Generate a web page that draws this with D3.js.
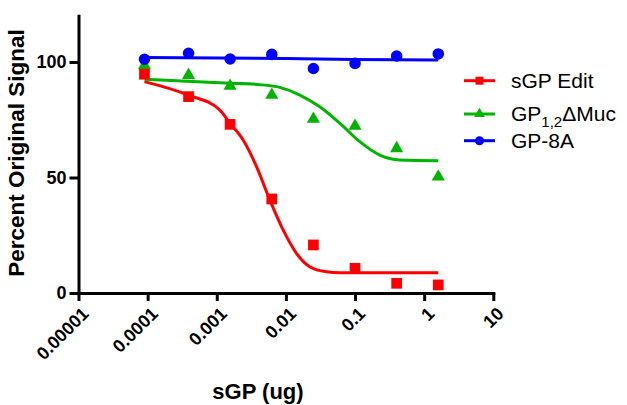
<!DOCTYPE html>
<html><head><meta charset="utf-8">
<script src="https://cdn.jsdelivr.net/npm/d3@7"></script>
<style>
html,body{margin:0;padding:0;background:#fff;}
svg{display:block;font-family:"Liberation Sans",Arial,Helvetica,sans-serif;}
</style></head>
<body><svg id="c" width="627" height="405"></svg>
<script>
// ---- data ----
const doses = [0.00009, 0.000391, 0.00156, 0.00625, 0.025, 0.1, 0.4, 1.6];
const seriesNames = ["sGP Edit", "GP1,2ΔMuc", "GP-8A"];
const sgpEdit = [94.7, 85.0, 73.0, 40.7, 20.8, 10.7, 4.2, 3.5];
const gpMuc   = [98.5, 94.3, 89.6, 85.7, 75.3, 72.3, 62.6, 50.3];
const gp8A    = [101.2, 103.8, 101.3, 103.3, 97.2, 99.4, 102.6, 103.5];
// fitted curves
const sgpEditFitX = [0.00009, 0.000386, 0.00111, 0.00155, 0.00241, 0.00376, 0.00585, 0.00912, 0.0142, 0.0221, 0.0386, 0.0601, 1.6];
const sgpEditFitY = [91.5, 85.7, 79.2, 73.5, 66.2, 54.7, 40.3, 27.3, 17.2, 11.4, 9.2, 8.8, 8.8];
const gpMucFitX = [0.00009, 0.00155, 0.0042, 0.00817, 0.0159, 0.0309, 0.0601, 0.117, 0.228, 0.443, 1.6];
const gpMucFitY = [92.5, 90.8, 90.2, 89.0, 85.7, 80.6, 73.5, 65.5, 59.7, 57.6, 57.3];
const gp8AFitX = [0.00009, 0.01, 0.1, 1.6];
const gp8AFitY = [101.9, 101.5, 101.1, 100.9];
const xTickValues = [0.00001, 0.0001, 0.001, 0.01, 0.1, 1, 10];
const xTickLabels = ["0.00001", "0.0001", "0.001", "0.01", "0.1", "1", "10"];
const yTickValues = [0, 50, 100];
const xTitle = "sGP (ug)";
const yTitle = "Percent Original Signal";

// ---- drawing ----
const svg = d3.select("#c");
const x = d3.scaleLog().domain([1e-5, 10]).range([78.5, 493.3]);
const y = d3.scaleLinear().domain([0, 120]).range([293, 15.8]);

const colors = ["#ff0000", "#00b400", "#0000ff"];
const series = [
  {name: seriesNames[0], vals: sgpEdit, fx: sgpEditFitX, fy: sgpEditFitY, color: colors[0], shape: "square"},
  {name: seriesNames[1], vals: gpMuc, fx: gpMucFitX, fy: gpMucFitY, color: colors[1], shape: "triangle"},
  {name: seriesNames[2], vals: gp8A, fx: gp8AFitX, fy: gp8AFitY, color: colors[2], shape: "circle"}
];

const line = d3.line().x(d => x(d[0])).y(d => y(d[1])).curve(d3.curveMonotoneX);

function symbolFor(shape, size) {
  const t = shape === "square" ? d3.symbolSquare : shape === "triangle" ? d3.symbolTriangle : d3.symbolCircle;
  return d3.symbol().type(t).size(size)();
}
const markSize = {square: 115, triangle: 75, circle: 105};

// curves
series.forEach(s => {
  svg.append("path")
    .attr("d", line(s.fx.map((v, i) => [v, s.fy[i]])))
    .attr("fill", "none").attr("stroke", s.color).attr("stroke-width", 3);
});
// points (green underneath)
[series[1], series[2], series[0]].forEach(s => {
  svg.append("g").selectAll("path").data(s.vals).join("path")
    .attr("transform", (d, i) => `translate(${x(doses[i])},${y(d)})`)
    .attr("d", symbolFor(s.shape, markSize[s.shape]))
    .attr("fill", s.color);
});

// axes
const xAxis = d3.axisBottom(x).tickValues(xTickValues).tickFormat((d, i) => xTickLabels[i]).tickSizeOuter(0).tickSizeInner(8);
const gx = svg.append("g").attr("transform", `translate(0,${y(0)})`).call(xAxis);
gx.select(".domain").attr("stroke", "#000").attr("stroke-width", 3).attr("stroke-linecap", "square");
gx.selectAll(".tick line").attr("stroke", "#000").attr("stroke-width", 3);
gx.selectAll(".tick text")
  .attr("font-family", "Liberation Sans, Arial, sans-serif")
  .attr("font-size", 18).attr("font-weight", "bold").attr("fill", "#000")
  .attr("text-anchor", "end")
  .attr("transform", "translate(2,13) rotate(-45)")
  .attr("x", 0).attr("y", 0).attr("dy", "0.7em");

const yAxis = d3.axisLeft(y).tickValues(yTickValues).tickSizeOuter(0).tickSizeInner(9).tickPadding(3);
const gy = svg.append("g").attr("transform", `translate(${x(1e-5)},0)`).call(yAxis);
gy.select(".domain").attr("stroke", "#000").attr("stroke-width", 3).attr("stroke-linecap", "square");
gy.selectAll(".tick line").attr("stroke", "#000").attr("stroke-width", 3);
gy.selectAll(".tick text")
  .attr("font-family", "Liberation Sans, Arial, sans-serif")
  .attr("font-size", 18).attr("font-weight", "bold").attr("fill", "#000");

// titles
svg.append("text").attr("x", 258).attr("y", 399).attr("text-anchor", "middle")
  .attr("font-size", 22).attr("font-weight", "bold").text(xTitle);
svg.append("text").attr("transform", "translate(24,153) rotate(-90)").attr("text-anchor", "middle")
  .attr("font-size", 22.5).attr("font-weight", "bold").text(yTitle);

// legend
const legY = [80.7, 114, 140.7];
series.forEach((s, i) => {
  const g = svg.append("g").attr("transform", `translate(0,${legY[i]})`);
  g.append("line").attr("x1", 464).attr("x2", 495).attr("y1", 0).attr("y2", 0)
    .attr("stroke", s.color).attr("stroke-width", 3);
  g.append("path").attr("transform", "translate(479.5,0)")
    .attr("d", symbolFor(s.shape, s.shape === "triangle" ? 50 : 64)).attr("fill", s.color);
  const t = g.append("text").attr("x", 511).attr("y", 7).attr("font-size", 21).attr("fill", "#000");
  if (i === 1) {
    t.append("tspan").text("GP");
    t.append("tspan").attr("font-size", 15).attr("dy", 6).text("1,2");
    t.append("tspan").attr("dy", -6).text("ΔMuc");
  } else {
    t.text(s.name);
  }
});
</script></body></html>
